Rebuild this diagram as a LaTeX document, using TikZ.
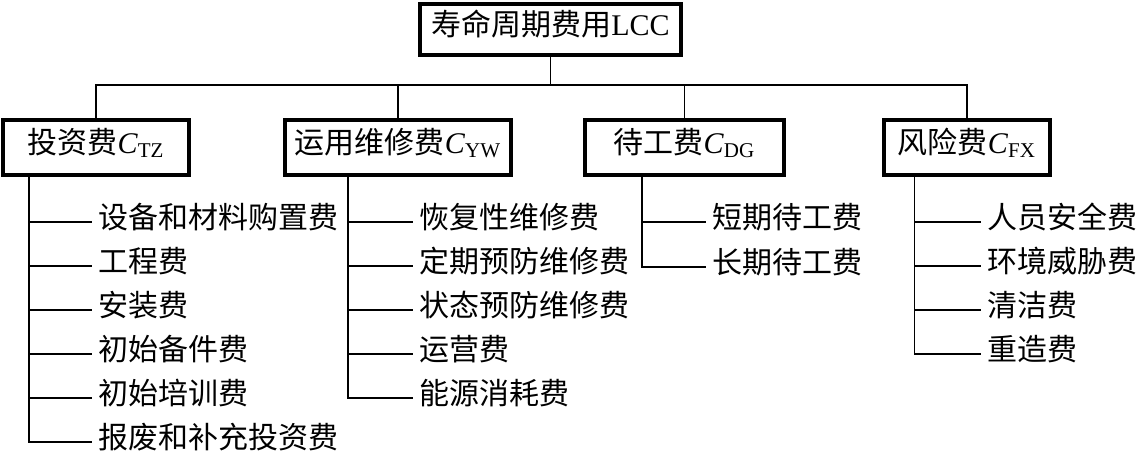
\documentclass[tikz,border=0pt]{standalone}
\usepackage{fontspec}
\setmainfont{Liberation Serif}
\newfontfamily\cjk{Noto Sans CJK SC}
\usepackage{tikz}

\begin{document}
\begin{tikzpicture}[x=0.5pt, y=-0.5pt,
    every node/.style = {font=\fontsize{15pt}{18pt}\selectfont},
    costbox/.style = {draw, line width=2pt, minimum height=27.5pt,
          inner sep=0pt, text height=0.8em, text depth=0.2em},
    leaf/.style = {anchor=west, inner xsep=3pt, inner ysep=0pt,
          font=\fontsize{15pt}{18pt}\selectfont\cjk,
          text height=0.8em, text depth=0.2em},
    link/.style = {line width=0.75pt}]
  \useasboundingbox (0,0) rectangle (1139,454);
  % top level
  \node[costbox, minimum height=25.5pt, minimum width=130.5pt] (lcc) at (550.5,29.5)
        {{\cjk 寿命周期费用}LCC};
  % second level
  \node[costbox, minimum width=93pt] (tz) at (96,147.5)
        {{\cjk 投资费}\textit{C}\textsubscript{TZ}};
  \node[costbox, minimum width=113pt] (yw) at (398,147.5)
        {{\cjk 运用维修费}\textit{C}\textsubscript{YW}};
  \node[costbox, minimum width=99.5pt] (dg) at (684.5,147.5)
        {{\cjk 待工费}\textit{C}\textsubscript{DG}};
  \node[costbox, minimum width=83pt] (fx) at (967,147.5)
        {{\cjk 风险费}\textit{C}\textsubscript{FX}};
  % bus
  \draw[link] (lcc.south) -- ++(0,28) coordinate (bus);
  \draw[link] (tz.north) |- (bus) -| (fx.north);
  \draw[link] (yw.north) -- (yw.north |- bus);
  \draw[link] (dg.north) -- (dg.north |- bus);
  % trunks
  \coordinate (tzbar) at (29,0);
  \coordinate (ywbar) at (348,0);
  \coordinate (dgbar) at (642,0);
  \coordinate (fxbar) at (914.5,0);
  % leaves
  \foreach \t [count=\i] in {设备和材料购置费, 工程费, 安装费, 初始备件费,
        初始培训费, 报废和补充投资费} {
    \node[leaf] (tz-\i) at (92,{222+44*(\i-1)}) {\t};
    \draw[link] (tz.south -| tzbar) |- (tz-\i.west);
  }
  \foreach \t [count=\i] in {恢复性维修费, 定期预防维修费, 状态预防维修费,
        运营费, 能源消耗费} {
    \node[leaf] (yw-\i) at (413,{222+44*(\i-1)}) {\t};
    \draw[link] (yw.south -| ywbar) |- (yw-\i.west);
  }
  \foreach \t [count=\i] in {短期待工费, 长期待工费} {
    \node[leaf] (dg-\i) at (706,{222+45*(\i-1)}) {\t};
    \draw[link] (dg.south -| dgbar) |- (dg-\i.west);
  }
  \foreach \t [count=\i] in {人员安全费, 环境威胁费, 清洁费, 重造费} {
    \node[leaf] (fx-\i) at (981,{222+44*(\i-1)}) {\t};
    \draw[link] (fx.south -| fxbar) |- (fx-\i.west);
  }
\end{tikzpicture}
\end{document}
